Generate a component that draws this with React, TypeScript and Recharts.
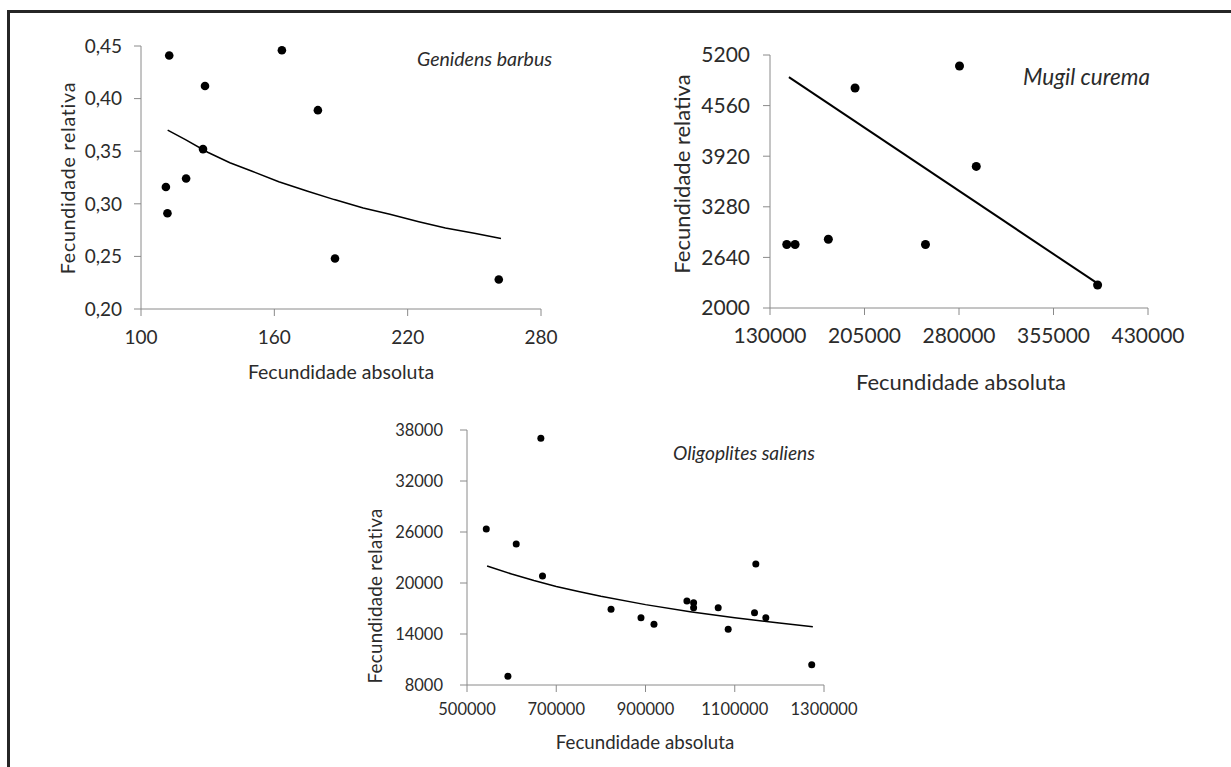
import React from 'react'
import { ScatterChart, Scatter, XAxis, YAxis } from 'recharts'

// Genidens barbus
const genidensAbs = [112.7, 163.4, 128.8, 179.6, 127.9, 120.3, 111.2, 111.9, 187.3, 261]
const genidensRel = [0.441, 0.446, 0.412, 0.389, 0.352, 0.324, 0.316, 0.291, 0.248, 0.228]
const genidensTrendAbs = [112, 120, 130, 140, 150, 162, 175, 187, 200, 212, 225, 237, 250, 262]
const genidensTrendRel = [0.37, 0.361, 0.349, 0.339, 0.331, 0.321, 0.312, 0.304, 0.296, 0.29, 0.283, 0.277, 0.272, 0.267]
const genidensXTicks = [100, 160, 220, 280]
const genidensYTicks = [0.2, 0.25, 0.3, 0.35, 0.4, 0.45]

// Mugil curema
const mugilAbs = [143300, 149900, 176300, 197500, 253400, 280400, 293700, 390000]
const mugilRel = [2803, 2803, 2870, 4782, 2803, 5061, 3791, 2291]
const mugilTrendAbs = [145000, 389000]
const mugilTrendRel = [4920, 2320]
const mugilXTicks = [130000, 205000, 280000, 355000, 430000]
const mugilYTicks = [2000, 2640, 3280, 3920, 4560, 5200]

// Oligoplites saliens
const oligoAbs = [543200, 591700, 610300, 665500, 669200, 822800, 889900, 919000, 992800, 1007800, 1007800, 1062900, 1085300, 1144300, 1147200, 1169600, 1272500]
const oligoRel = [26350, 9020, 24590, 37020, 20820, 16900, 15920, 15140, 17880, 17680, 17100, 17100, 14550, 16510, 22240, 15920, 10390]
const oligoTrendAbs = [545000, 600000, 650000, 700000, 750000, 800000, 900000, 1000000, 1100000, 1200000, 1275000]
const oligoTrendRel = [22000, 21050, 20290, 19600, 18990, 18430, 17455, 16630, 15910, 15290, 14860]
const oligoXTicks = [500000, 700000, 900000, 1100000, 1300000]
const oligoYTicks = [8000, 14000, 20000, 26000, 32000, 38000]

const FONT = 'Lato, "Open Sans", sans-serif'
const TEXT = '#2b2b2b'
const AXIS = '#8a8a8a'

const zip = (xs: number[], ys: number[]) => xs.map((x, i) => ({ x, y: ys[i] }))

const Dot = (r: number) => (p: any) => <circle cx={p.cx} cy={p.cy} r={r} fill="#000" />
const NoDot = () => <g />

interface PanelProps {
  left: number
  top: number
  width: number
  height: number
  margin: { top: number; right: number; bottom: number; left: number }
  points: { x: number; y: number }[]
  trend: { x: number; y: number }[]
  xDomain: [number, number]
  yDomain: [number, number]
  xTicks: number[]
  yTicks: number[]
  yFmt?: (v: number) => string
  fontSize: number
  xTickMargin: number
  yTickMargin: number
  dotR: number
  lineW: number
}

function Panel(p: PanelProps) {
  const tick = { fontSize: p.fontSize, fill: TEXT, fontFamily: FONT }
  return (
    <div style={{ position: 'absolute', left: p.left, top: p.top }}>
      <ScatterChart width={p.width} height={p.height} margin={p.margin}>
        <XAxis
          type="number"
          dataKey="x"
          domain={p.xDomain}
          ticks={p.xTicks}
          interval={0}
          height={40}
          stroke={AXIS}
          tickLine={{ stroke: AXIS }}
          tickSize={7}
          tickMargin={p.xTickMargin}
          tick={tick}
        />
        <YAxis
          type="number"
          dataKey="y"
          domain={p.yDomain}
          ticks={p.yTicks}
          interval={0}
          width={70}
          stroke={AXIS}
          tickLine={{ stroke: AXIS }}
          tickSize={7}
          tickMargin={p.yTickMargin}
          tick={tick}
          tickFormatter={p.yFmt}
        />
        <Scatter data={p.trend} line={{ stroke: '#000', strokeWidth: p.lineW }} lineType="joint" shape={NoDot} isAnimationActive={false} />
        <Scatter data={p.points} shape={Dot(p.dotR)} isAnimationActive={false} />
      </ScatterChart>
    </div>
  )
}

function Txt({ x, y, size, children, rotate, italic, anchor, spacing }: { x: number; y: number; size: number; children: string; rotate?: boolean; italic?: boolean; anchor?: 'start' | 'middle'; spacing?: number }) {
  const tx = anchor === 'start' ? '0' : '-50%'
  return (
    <div
      style={{
        position: 'absolute',
        left: x,
        top: y,
        transform: `translate(${tx}, -50%)${rotate ? ' rotate(-90deg)' : ''}`,
        transformOrigin: rotate ? 'center' : undefined,
        fontFamily: FONT,
        fontSize: size,
        fontStyle: italic ? 'italic' : 'normal',
        letterSpacing: spacing,
        color: TEXT,
        whiteSpace: 'nowrap',
        lineHeight: 1,
      }}
    >
      {children}
    </div>
  )
}

export default function App() {
  return (
    <div style={{ position: 'absolute', left: 0, top: 0, width: 1231, height: 767, background: '#fff', overflow: 'hidden' }}>
      <div style={{ position: 'absolute', left: 7, top: 10, width: 1240, height: 780, borderTop: '3px solid #262626', borderLeft: '3px solid #262626' }} />

      <Panel
        left={0} top={0} width={610} height={400}
        margin={{ top: 46, right: 69, bottom: 51, left: 71 }}
        points={zip(genidensAbs, genidensRel)}
        trend={zip(genidensTrendAbs, genidensTrendRel)}
        xDomain={[100, 280]} yDomain={[0.2, 0.45]}
        xTicks={genidensXTicks} yTicks={genidensYTicks}
        yFmt={(v) => v.toFixed(2).replace('.', ',')}
        fontSize={19} xTickMargin={15} yTickMargin={12} dotR={4.3} lineW={1.5}
      />
      <Txt x={68} y={178} size={19.5} spacing={0.8} rotate>Fecundidade relativa</Txt>
      <Txt x={341} y={372} size={19.5}>Fecundidade absoluta</Txt>
      <Txt x={417} y={59} size={19.5} italic anchor="start">Genidens barbus</Txt>

      <Panel
        left={620} top={0} width={600} height={400}
        margin={{ top: 55, right: 72, bottom: 52, left: 80 }}
        points={zip(mugilAbs, mugilRel)}
        trend={zip(mugilTrendAbs, mugilTrendRel)}
        xDomain={[130000, 430000]} yDomain={[2000, 5200]}
        xTicks={mugilXTicks} yTicks={mugilYTicks}
        fontSize={21} xTickMargin={13} yTickMargin={13} dotR={4.5} lineW={2}
      />
      <Txt x={682} y={174} size={22} rotate>Fecundidade relativa</Txt>
      <Txt x={961} y={382} size={22}>Fecundidade absoluta</Txt>
      <Txt x={1023} y={77} size={22.5} italic anchor="start">Mugil curema</Txt>

      <Panel
        left={340} top={410} width={560} height={357}
        margin={{ top: 20, right: 76, bottom: 42, left: 57 }}
        points={zip(oligoAbs, oligoRel)}
        trend={zip(oligoTrendAbs, oligoTrendRel)}
        xDomain={[500000, 1300000]} yDomain={[8000, 38000]}
        xTicks={oligoXTicks} yTicks={oligoYTicks}
        fontSize={16.5} xTickMargin={11} yTickMargin={17} dotR={3.5} lineW={1.5}
      />
      <Txt x={375} y={596} size={18.7} spacing={0.3} rotate>Fecundidade relativa</Txt>
      <Txt x={645} y={742} size={18.7}>Fecundidade absoluta</Txt>
      <Txt x={673} y={453} size={19.2} italic anchor="start">Oligoplites saliens</Txt>
    </div>
  )
}
